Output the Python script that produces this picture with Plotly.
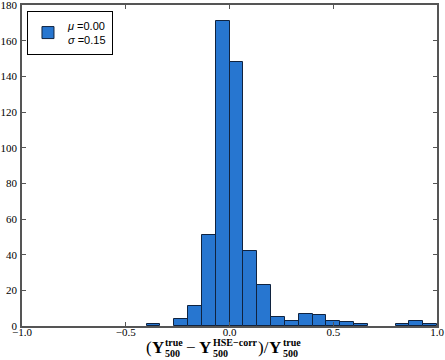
import plotly.graph_objects as go

# ---- data (30 bins over [-1, 1]) ----
bin_lo = -1.0
bin_hi = 1.0
n_bins = 30
counts = [0, 0, 0, 0, 0, 0, 0, 0, 0, 1,
          0, 4, 11, 51, 171, 148, 42, 23, 5, 3,
          7, 6, 3, 2, 1, 0, 0, 1, 3, 1]
legend_label = "<i>μ</i> =0.00<br><i>σ</i> =0.15"
x_ticks = [-1.0, -0.5, 0.0, 0.5, 1.0]
y_ticks = [0, 20, 40, 60, 80, 100, 120, 140, 160, 180]

width = (bin_hi - bin_lo) / n_bins
centers = [bin_lo + (i + 0.5) * width for i in range(n_bins)]
xs = [c for c, n in zip(centers, counts) if n > 0]
ys = [n for n in counts if n > 0]

fig = go.Figure()
fig.add_trace(go.Bar(
    x=xs, y=ys, width=width, name=legend_label, showlegend=True,
    marker=dict(color="#2776d0", line=dict(color="#10233f", width=1)),
))

serif = "Liberation Serif"
axis_common = dict(showline=True, linecolor="#555555", linewidth=1.5, mirror="ticks",
                   ticks="inside", ticklen=4, tickcolor="#555555", tickwidth=1,
                   showgrid=False, zeroline=False, automargin=False,
                   ticklabeloverflow="allow",
                   tickfont=dict(family=serif, size=11, color="black"))

fig.update_layout(
    width=445, height=360,
    margin=dict(l=22, r=8, t=5, b=34),
    paper_bgcolor="white", plot_bgcolor="white",
    bargap=0,
    xaxis=dict(range=[-1, 1], tickvals=x_ticks, tickformat=".1f",
               ticklabelstandoff=-5, **axis_common),
    yaxis=dict(range=[0, 180], tickvals=y_ticks, ticklabelstandoff=1, **axis_common),
    legend=dict(x=0.012, y=0.982, xanchor="left", yanchor="top",
                bordercolor="black", borderwidth=1, bgcolor="white",
                font=dict(family="Liberation Sans", size=11, color="black"),
                itemwidth=30, tracegroupgap=0),
    showlegend=True,
)

# x-axis title built from pieces so that the super/subscripts stack like LaTeX
main_f = dict(family=serif, size=17, color="black")
scr_f = dict(family=serif, size=10, color="black")
pieces = [
    ("(", main_f, 145, -21),
    ("<b>Y</b>", main_f, 150.5, -21),
    ("<b>true</b>", scr_f, 164, -16),
    ("<b>500</b>", scr_f, 164, -27),
    ("−", main_f, 185, -21),
    ("<b>Y</b>", main_f, 198, -21),
    ("<b>HSE−corr</b>", scr_f, 211.5, -16),
    ("<b>500</b>", scr_f, 211.5, -27),
    (")/", main_f, 257, -21),
    ("<b>Y</b>", main_f, 268, -21),
    ("<b>true</b>", scr_f, 281.5, -16),
    ("<b>500</b>", scr_f, 281.5, -27),
]
for txt, f, px, dy in pieces:
    fig.add_annotation(text=txt, xref="paper", yref="paper", x=0.5, y=0,
                       xanchor="left", yanchor="middle", showarrow=False,
                       xshift=px - 229.5, yshift=dy, font=f, borderpad=0)

fig.write_html("out.html", config={"displayModeBar": False},
               post_script="document.body.style.margin='0';"
                           "document.body.style.overflow='hidden';")
